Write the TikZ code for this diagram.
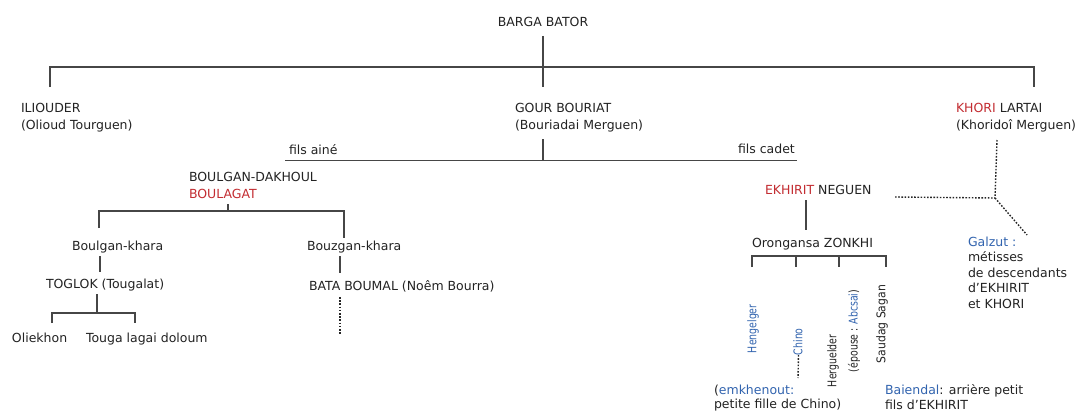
\documentclass[tikz,border=0pt]{standalone}
\usepackage{fontspec}
\setmainfont{DejaVu Sans}
\definecolor{txt}{RGB}{35,35,35}
\definecolor{lineclr}{RGB}{70,70,70}
\definecolor{redn}{RGB}{195,45,50}
\definecolor{bluen}{RGB}{50,100,175}
\newcommand{\sq}[2][0.78]{\scalebox{#1}[1]{#2}}
\begin{document}
\begin{tikzpicture}[x=1pt,y=-1pt,
 every node/.style={inner sep=0pt, outer sep=0pt, text=txt},
 lbl/.style={font=\fontsize{12.5}{17}\selectfont, anchor=north west, align=left},
 vlbl/.style={font=\fontsize{12}{13}\selectfont, rotate=90, anchor=west},
 ln/.style={draw=lineclr, line width=1.3pt},
 dots/.style={draw=black!85, line width=1.4pt, dash pattern=on 1.6pt off 1.6pt}]
\useasboundingbox (0,0) rectangle (1078,412);
\fill[white] (0,0) rectangle (1078,412);

% ---- nodes
\node[lbl, anchor=north] (barga) at (543,17.5) {BARGA BATOR};
\node[lbl] (iliouder) at (21,103.5) {ILIOUDER\\(Olioud Tourguen)};
\node[lbl] (gour) at (515,103.5) {GOUR BOURIAT\\(Bouriadai Merguen)};
\node[lbl] (khori) at (956,103.5) {\textcolor{redn}{KHORI} LARTAI\\(Khoridoî Merguen)};
\node[lbl] (aine) at (289,144.5) {fils ainé};
\node[lbl] (cadet) at (738,144.5) {fils cadet};
\node[lbl] (boulgan) at (189,172.5) {BOULGAN-DAKHOUL\\\textcolor{redn}{BOULAGAT}};
\node[lbl] (boulk) at (72,241) {Boulgan-khara};
\node[lbl] (bouzk) at (307,241) {Bouzgan-khara};
\node[lbl] (toglok) at (46,278.5) {TOGLOK (Tougalat)};
\node[lbl] (bata) at (309,280) {BATA BOUMAL (Noêm Bourra)};
\node[lbl] (oliekhon) at (12,333) {Oliekhon};
\node[lbl] (touga) at (86,333) {Touga lagai doloum};
\node[lbl] (ekhirit) at (765,185.5) {\textcolor{redn}{EKHIRIT} NEGUEN};
\node[lbl] (oron) at (752,238.5) {Orongansa ZONKHI};
\node[lbl, font=\fontsize{12.5}{15.5}\selectfont] (galzut) at (968,236.5)
  {\textcolor{bluen}{Galzut :}\\métisses\\de descendants\\d'EKHIRIT\\et KHORI};
\node[lbl, font=\fontsize{12.5}{14.5}\selectfont] (emkh) at (714,384.5)
  {(\textcolor{bluen}{emkhenout:}\\petite fille de Chino)};
\node[lbl, font=\fontsize{12.5}{14.5}\selectfont] (baiendal) at (885,384.5)
  {\textcolor{bluen}{Baiendal}: arrière petit\\fils d'EKHIRIT};

\node[vlbl] (heng) at (753,353) {\sq{\textcolor{bluen}{Hengelger}}};
\node[vlbl] (chino) at (798,355) {\sq{\textcolor{bluen}{Chino}}};
\node[vlbl] (herg) at (833,387) {\sq{Herguelder}};
\node[vlbl] (epouse) at (854,372) {\sq{(épouse : \textcolor{bluen}{Abcsai})}};
\node[vlbl] (saudag) at (882,363) {\sq[0.9]{Saudag Sagan}};

% ---- junction coordinates
\coordinate (t0) at (543,36);
\coordinate (t1) at (543,87);
\coordinate (b0l) at (50,67);  \coordinate (b0l2) at (50,87);
\coordinate (b0r) at (1034,67); \coordinate (b0r2) at (1034,87);

\coordinate (g0) at (543,139); \coordinate (g1) at (543,160);
\coordinate (f0) at (285,160); \coordinate (f1) at (797,160);

\coordinate (d0) at (228,204); \coordinate (d1) at (228,211);
\coordinate (dl) at (99,211);  \coordinate (dl2) at (99,228);
\coordinate (dr) at (344,211); \coordinate (dr2) at (344,238);

\coordinate (k0) at (100,256); \coordinate (k1) at (100,271.5);
\coordinate (z0) at (340,256); \coordinate (z1) at (340,273);

\coordinate (o0) at (97,294); \coordinate (o1) at (97,313);
\coordinate (ol) at (52,313); \coordinate (ol2) at (52,323);
\coordinate (or) at (135,313); \coordinate (or2) at (135,323);

\coordinate (bd0) at (340,297); \coordinate (bd1) at (340,335);

\coordinate (e0) at (806,200); \coordinate (e1) at (806,230);
\coordinate (zl) at (752,256); \coordinate (zl2) at (752,267);
\coordinate (zb) at (796,256); \coordinate (zb2) at (796,267);
\coordinate (zc) at (839,256); \coordinate (zc2) at (839,267);
\coordinate (zr) at (886,256); \coordinate (zr2) at (886,267);

\coordinate (kd0) at (997,140);
\coordinate (kj) at (995,198);
\coordinate (ek) at (895,197);
\coordinate (gz) at (1027,235);
\coordinate (chinoend) at (798,378);

% ---- connectors
\draw[ln] (t0) -- (t1);
\draw[ln] (b0l2) -- (b0l) -- (b0r) -- (b0r2);
\draw[ln] (g0) -- (g1);
\draw[ln, line width=1pt] (f0) -- (f1);
\draw[ln] (d0) -- (d1);
\draw[ln] (dl2) -- (dl) -- (dr) -- (dr2);
\draw[ln] (k0) -- (k1);
\draw[ln] (z0) -- (z1);
\draw[ln] (o0) -- (o1);
\draw[ln] (ol2) -- (ol) -- (or) -- (or2);
\draw[dots] (bd0) -- (bd1);
\draw[ln] (e0) -- (e1);
\draw[ln] (zl2) -- (zl) -- (zr) -- (zr2);
\draw[ln] (zb) -- (zb2);
\draw[ln] (zc) -- (zc2);
\draw[dots] (kd0) -- (kj);
\draw[dots] (ek) -- (kj);
\draw[dots] (kj) -- (gz);
\draw[dots] ([xshift=0.5pt]chino.west) -- (chinoend);
\end{tikzpicture}
\end{document}
